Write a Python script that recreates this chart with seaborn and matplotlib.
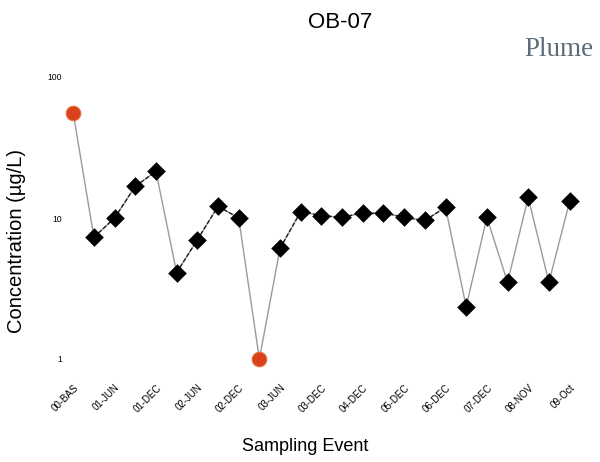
import numpy as np
import pandas as pd
import matplotlib
matplotlib.use("Agg")
import matplotlib.pyplot as plt
import matplotlib.transforms as mtransforms
import seaborn as sns

# sampling events (every point), labels only on every other one
events = ["00-BAS", "00-b", "01-JUN", "01-b", "01-DEC", "01-d", "02-JUN", "02-b",
          "02-DEC", "02-d", "03-JUN", "03-b", "03-DEC", "03-d", "04-DEC", "04-d",
          "05-DEC", "05-d", "06-DEC", "06-d", "07-DEC", "07-d", "08-NOV", "08-d",
          "09-Oct"]
tick_labels = ["00-BAS", "01-JUN", "01-DEC", "02-JUN", "02-DEC", "03-JUN", "03-DEC",
               "04-DEC", "05-DEC", "06-DEC", "07-DEC", "08-NOV", "09-Oct"]
conc = [55.4, 7.3, 10.0, 16.8, 21.4, 4.1, 7.0, 12.1, 10.0, 1.0, 6.1, 11.1, 10.4,
        10.1, 10.9, 10.9, 10.1, 9.6, 11.9, 2.35, 10.1, 3.5, 14.0, 3.5, 13.1]
# which points are flagged (red circles)
flagged = [1, 0, 0, 0, 0, 0, 0, 0, 0, 1, 0, 0, 0, 0, 0, 0, 0, 0, 0, 0, 0, 0, 0, 0, 0]
# segments drawn as dark dashed line (segment i joins point i and i+1)
dashed_seg = [0, 1, 1, 1, 0, 1, 1, 1, 0, 0, 1, 1, 1, 1, 1, 1, 1, 1, 0, 0, 0, 0, 0, 0]

df = pd.DataFrame({"idx": np.arange(len(conc)), "conc": conc,
                   "flag": np.array(flagged, dtype=bool)})

sns.set_style("white")
plt.rcParams['font.family'] = ['Liberation Sans', 'DejaVu Sans']
plt.rcParams['text.color'] = 'black'
plt.rcParams['axes.labelcolor'] = 'black'
plt.rcParams['xtick.color'] = 'black'
plt.rcParams['ytick.color'] = 'black'

fig = plt.figure(figsize=(6, 4.62), dpi=100)
ax = fig.add_axes([66/600, 1-359/462, (582-66)/600, (359-77)/462])

# base thin grey line through all points
sns.lineplot(data=df, x="idx", y="conc", color="#9a9a9a", linewidth=1.0, ax=ax,
             estimator=None, sort=False)

# dark dashed segments
for i, d in enumerate(dashed_seg):
    if d:
        seg = df.iloc[i:i+2]
        ax.plot(seg["idx"], seg["conc"], color="#222222", linewidth=1.0,
                linestyle=(0, (3, 1.5)), zorder=2)

sns.scatterplot(data=df[~df["flag"]], x="idx", y="conc", marker="D", s=90,
                color="black", edgecolor="black", linewidth=0, ax=ax, zorder=4,
                clip_on=False)
sns.scatterplot(data=df[df["flag"]], x="idx", y="conc", marker="o", s=110,
                color="#d9411c", edgecolor="#e8703a", linewidth=0.8, ax=ax,
                zorder=5, clip_on=False)

ax.set_yscale("log")
ax.set_ylim(1, 100)
ax.set_xlim(-0.35, 24.6)
ax.set_yticks([1, 10, 100])
ax.set_yticklabels(["1", "10", "100"], fontsize=6.2)
ax.yaxis.set_minor_locator(matplotlib.ticker.NullLocator())
ax.set_xticks(np.arange(0, len(conc), 2))
ax.set_xticklabels(tick_labels, rotation=45, ha="right", rotation_mode="anchor",
                   fontsize=7)
shift = mtransforms.ScaledTranslation(-5/100, 0, fig.dpi_scale_trans)
for lab in ax.get_xticklabels():
    lab.set_transform(lab.get_transform() + shift)
ax.tick_params(axis="x", length=0, pad=17)
ax.tick_params(axis="y", length=0, pad=3)
for s in ax.spines.values():
    s.set_visible(False)

ax.set_xlabel("Sampling Event", fontsize=13)
ax.xaxis.set_label_coords((305-66)/(582-66), -(438-359)/(359-77))
ax.set_ylabel("Concentration (\u00b5g/L)", fontsize=14.5, va="center")
ax.yaxis.set_label_coords(-(66-17)/(582-66), (359-241)/(359-77))

fig.text(340/600, 1-22/462, "OB-07", fontsize=16, ha="center", va="center")
fig.text(593/600, 1-56/462, "Plume", fontsize=19.5, ha="right", va="baseline",
         family="Liberation Serif", color="#5c6b78")

fig.savefig("out.png", dpi=100)
